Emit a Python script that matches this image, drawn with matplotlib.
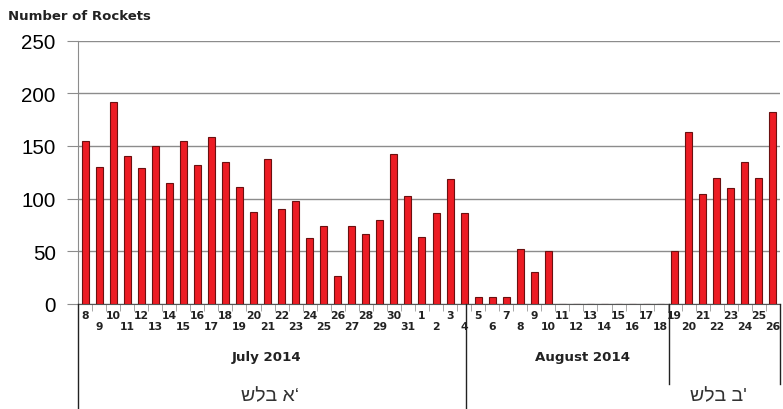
import numpy as np
import matplotlib
matplotlib.use("Agg")
import matplotlib.pyplot as plt
import matplotlib.transforms as mtransforms
from matplotlib.lines import Line2D

# day of month for each bar: 8-31 July, 1-26 August 2014
july_days = list(range(8, 32))
aug_days = list(range(1, 27))
days = july_days + aug_days

rockets = [155, 130, 192, 140, 129, 150, 115, 155, 132, 158, 135, 111,
           87, 138, 90, 98, 63, 74, 27, 74, 66, 80, 142, 102,
           64, 86, 119, 86, 7, 7, 7, 52, 30, 50, 0, 0, 0, 0, 0, 0, 0, 0,
           50, 163, 104, 120, 110, 135, 120, 182]

month_labels = ["July 2014", "August 2014"]
phase_labels = ["שלב א‘", "שלב ב'"]

W, H = 783, 410
fig = plt.figure(figsize=(W / 100, H / 100), dpi=100)
ax = fig.add_axes([78 / W, 105 / H, 702 / W, 263.5 / H])

x = np.arange(len(rockets))
ax.bar(x, rockets, width=0.5, color="#ec1c24", edgecolor="#6b1010",
       linewidth=0.8, zorder=3)

ax.set_xlim(-0.5, len(rockets) - 0.5)
ax.set_ylim(0, 250)
ax.set_yticks(range(0, 251, 50))
ax.yaxis.grid(True, color="#8c8c8c", linewidth=1)
ax.set_axisbelow(True)
for s in ("top", "right"):
    ax.spines[s].set_visible(False)
ax.spines["left"].set_color("#8c8c8c")
ax.spines["bottom"].set_color("#555555")

ax.tick_params(axis="y", length=8, color="#8c8c8c", pad=8, labelsize=14.8)
for lab in ax.get_yticklabels():
    lab.set_family(["Liberation Sans", "DejaVu Sans"])

# x labels alternate between two rows
ax.set_xticks(x)
ax.set_xticklabels([str(d) if i % 2 == 0 else "\n" + str(d) for i, d in enumerate(days)],
                   fontsize=7.8, fontweight="bold", color="#222222",
                   linespacing=1.2)
ax.tick_params(axis="x", which="major", length=0, pad=4)
ax.set_xticks(np.arange(-0.5, len(rockets), 1), minor=True)
ax.tick_params(axis="x", which="minor", length=5, color="#999999")

# separators under the axis
trans = mtransforms.blended_transform_factory(ax.transData, fig.transFigure)
for xs, ybot in [(-0.5, 0), (27.15, 0), (41.6, 25 / H), (49.5, 25 / H)]:
    fig.add_artist(Line2D([xs, xs], [105 / H, ybot], transform=trans,
                          color="#222222", linewidth=1))

for xs, lab in zip([12.94, 35.4], month_labels):
    fig.text(xs, 1 - 358 / H, lab, transform=trans, ha="center", va="center",
             fontsize=9.6, fontweight="bold", color="#222222")
for xs, lab in zip([13.2, 45.1], phase_labels):
    fig.text(xs, 1 - 397 / H, lab, transform=trans, ha="center", va="center",
             fontsize=14, color="#333333", fontweight="light",
             family=["Liberation Sans", "DejaVu Sans"])

fig.text(8 / W, 1 - 16 / H, "Number of Rockets", ha="left", va="center",
         fontsize=9.5, fontweight="bold", color="#222222")

fig.savefig("out.png", dpi=100)
